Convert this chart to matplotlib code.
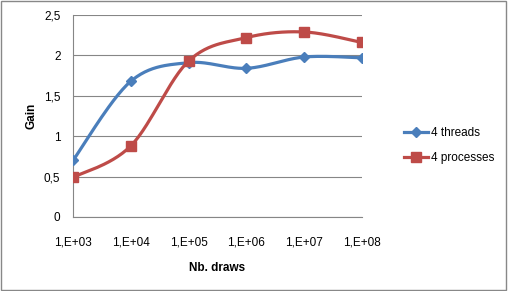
import numpy as np
import matplotlib
matplotlib.use("Agg")
import matplotlib.pyplot as plt
from matplotlib.patches import Rectangle

categories = ["1,E+03", "1,E+04", "1,E+05", "1,E+06", "1,E+07", "1,E+08"]
threads = [0.70, 1.68, 1.91, 1.84, 1.98, 1.97]
processes = [0.49, 0.88, 1.93, 2.22, 2.29, 2.16]
yticks = [0, 0.5, 1, 1.5, 2, 2.5]
ytick_labels = ["0", "0,5", "1", "1,5", "2", "2,5"]


def smooth(xs, ys, n=30):
    # excel-like bezier smoothing through the points
    p = np.column_stack([xs, ys]).astype(float)
    out = [p[0]]
    for i in range(len(p) - 1):
        p0 = p[i - 1] if i > 0 else p[i]
        p3 = p[i + 2] if i + 2 < len(p) else p[i + 1]
        c1 = p[i] + (p[i + 1] - p0) / 6
        c2 = p[i + 1] - (p3 - p[i]) / 6
        t = np.linspace(0, 1, n)[1:, None]
        seg = ((1 - t) ** 3) * p[i] + 3 * ((1 - t) ** 2) * t * c1 + 3 * (1 - t) * t ** 2 * c2 + t ** 3 * p[i + 1]
        out.extend(seg)
    out = np.array(out)
    return out[:, 0], out[:, 1]


plt.rcParams['font.family'] = ['Liberation Sans', 'DejaVu Sans']

fig = plt.figure(figsize=(5.08, 2.91), dpi=100)
fig.patches.append(Rectangle((0.002, 0.003), 0.994, 0.993, transform=fig.transFigure,
                             fill=False, edgecolor="#888888", linewidth=1))
ax = fig.add_axes([0.1437, 0.2543, 0.5689, 0.6942])

x = np.arange(len(categories))
blue = "#4A7EBB"
red = "#BE4B48"

bx, by = smooth(x, threads)
ax.plot(bx, by, color=blue, lw=2.3, zorder=3)
ax.plot(x, threads, ls="none", marker="D", ms=5.5, color=blue, zorder=4)
rx, ry = smooth(x, processes)
ax.plot(rx, ry, color=red, lw=2.3, zorder=3)
ax.plot(x, processes, ls="none", marker="s", ms=7, color=red, zorder=4)

ax.set_xlim(0, len(categories) - 1)
ax.set_ylim(0, 2.5)
ax.set_yticks(yticks)
ax.set_yticklabels(ytick_labels)
ax.set_xticks(x)
ax.set_xticklabels(categories)
ax.grid(axis="y", color="#868686", lw=0.8)
ax.set_axisbelow(True)
for s in ["top", "right"]:
    ax.spines[s].set_visible(False)
for s in ["left", "bottom"]:
    ax.spines[s].set_color("#868686")
ax.tick_params(length=0, labelsize=8.5, colors="#000000")
ax.tick_params(axis="x", pad=14)
ax.tick_params(axis="y", pad=9)

ax.set_ylabel("Gain", fontsize=8.5, fontweight="bold", labelpad=5)
ax.set_xlabel("Nb. draws", fontsize=8.5, fontweight="bold", labelpad=10)

h1, = ax.plot([], [], color=blue, lw=2.3, marker="D", ms=5.5)
h2, = ax.plot([], [], color=red, lw=2.3, marker="s", ms=7)
fig.legend([h1, h2], ["4 threads", "4 processes"], loc="center left",
           bbox_to_anchor=(0.775, 0.50), frameon=False, fontsize=8.5,
           handlelength=2.0, handletextpad=0.25, labelspacing=1.1)

fig.savefig("out.png", dpi=100)
